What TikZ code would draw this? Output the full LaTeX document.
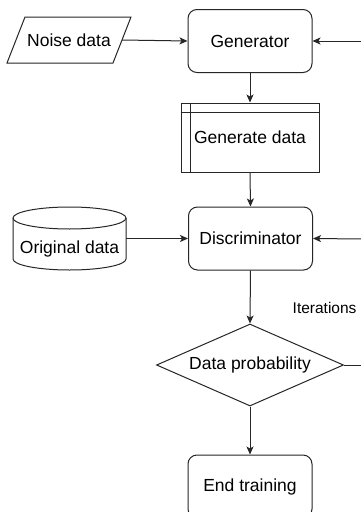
\documentclass[tikz,border=0pt]{standalone}
\usepackage{fontspec}
\setmainfont{Liberation Sans}
\usetikzlibrary{arrows.meta,shapes.geometric}
\begin{document}
\begin{tikzpicture}[x=1pt,y=-1pt,
  ln/.style={draw=black!85, line width=1pt},
  arr/.style={ln, -{Stealth[length=8pt,width=7pt,inset=2pt]}},
  rbox/.style={ln, rectangle, rounded corners=9pt, minimum width=124pt, minimum height=63pt, inner sep=0pt, font=\fontsize{17.5}{20}\selectfont},
  plain/.style={inner sep=0pt, font=\fontsize{17.5}{20}\selectfont},
  lbl/.style={inner sep=0pt, font=\fontsize{15.5}{18}\selectfont}
]
\useasboundingbox (0,0) rectangle (361,512);
\clip (0,0) rectangle (361,512);
\fill[white] (0,0) rectangle (361,512);

% Noise data (parallelogram)
\draw[ln] (7,63) -- (113,63) -- (131,17) -- (25,17) -- cycle;
\node[plain, minimum width=106pt, minimum height=46pt] (noise) at (69,40) {Noise data};

% Generator
\node[rbox] (gen) at (250,41) {Generator};

% Generate data (predefined process)
\node[ln, rectangle, minimum width=138pt, minimum height=69pt, inner sep=0pt,
      font=\fontsize{17.5}{20}\selectfont] (gd) at (250,137.5) {Generate data};
\draw[ln] ([xshift=10pt]gd.north west) -- ([xshift=10pt]gd.south west);
\draw[ln] ([yshift=-10pt]gd.north west) -- ([yshift=-10pt]gd.north east);

% Original data (cylinder)
\draw[ln] (13,218) -- (13,259) arc[start angle=180, end angle=360, x radius=56.5, y radius=-11] -- (126,218);
\draw[ln] (69.5,218) ellipse [x radius=56.5, y radius=11];
\node[plain, minimum width=113pt, minimum height=63pt] (orig) at (69.5,238.5) {};
\node[plain] (origtxt) at (69.5,249) {Original data};

% Discriminator
\node[rbox] (disc) at (250.5,238.5) {Discriminator};

% Data probability (decision)
\node[ln, diamond, aspect=2.28, minimum width=187pt, minimum height=82pt, inner sep=0pt,
      font=\fontsize{17.5}{20}\selectfont] (prob) at (250,365) {Data probability};

% End training
\node[rbox] (endt) at (250,486.5) {End training};

% Iterations label
\node[lbl, anchor=west] (iter) at (292.5,308) {Iterations};

% right-edge coordinates (loop continues outside the picture)
\coordinate (r1) at (362,41);
\coordinate (r2) at (362,239);
\coordinate (r3) at (362,365);

% connectors
\draw[arr] (noise.east) -- (gen.west);
\draw[arr] (r1) -- (gen.east);
\draw[arr] (gen.south) -- (gd.north);
\draw[arr] (gd.south) -- (disc.north);
\draw[arr] (orig.east) -- (disc.west);
\draw[arr] (r2) -- (disc.east);
\draw[arr] (disc.south) -- (prob.north);
\draw[ln] (prob.east) -- (r3);
\draw[arr] (prob.south) -- (endt.north);
\end{tikzpicture}
\end{document}
